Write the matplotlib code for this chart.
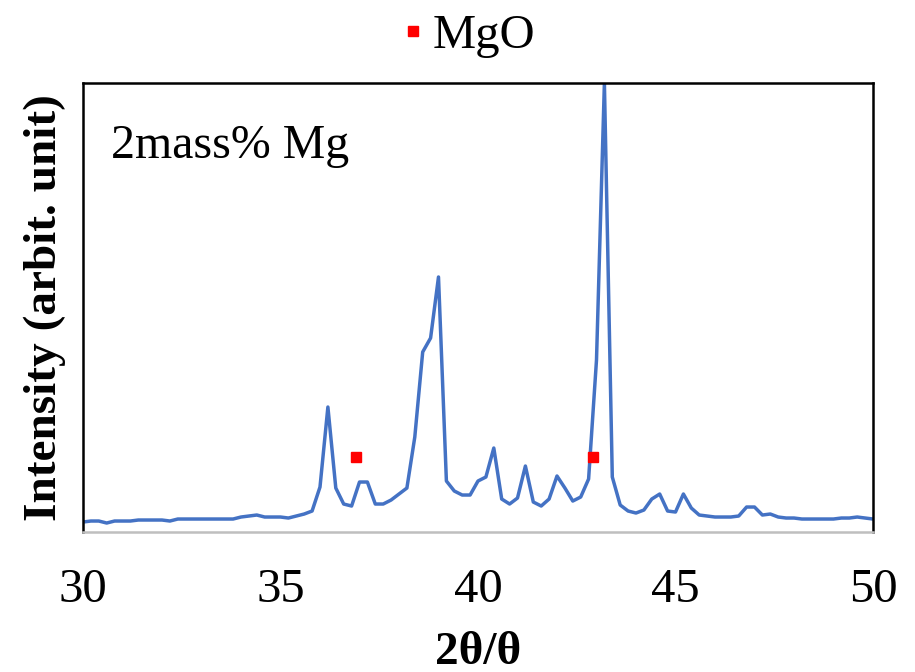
import numpy as np
import matplotlib
matplotlib.use("Agg")
import matplotlib.pyplot as plt

# XRD pattern, 2mass% Mg sample
two_theta = np.linspace(30, 50, 101)
intensity = [
    10, 11, 11, 9, 11, 11, 11, 12, 12, 12,
    12, 11, 13, 13, 13, 13, 13, 13, 13, 13,
    15, 16, 17, 15, 15, 15, 14, 16, 18, 21,
    45, 125, 44, 28, 26, 50, 50, 28, 28, 32,
    38, 44, 95, 180, 194, 255, 51, 41, 37, 37,
    51, 55, 84, 33, 28, 34, 66, 30, 26, 33,
    56, 44, 31, 35, 53, 172, 449, 55, 27, 21,
    19, 22, 33, 38, 21, 20, 38, 24, 17, 16,
    15, 15, 15, 16, 25, 25, 17, 18, 15, 14,
    14, 13, 13, 13, 13, 13, 14, 14, 15, 14,
    13,
]

# MgO peak markers
mgo_theta = [36.9, 42.9]
mgo_level = [75, 75]

xticks = [30, 35, 40, 45, 50]

plt.rcParams["font.family"] = ["Liberation Serif", "DejaVu Serif"]

fig = plt.figure(figsize=(9.15, 6.72), dpi=100)
ax = fig.add_axes([0.0907, 0.2083, 0.8634, 0.6682])

ax.plot(two_theta, intensity, color="#4472C4", linewidth=2.5)
ax.plot(mgo_theta, mgo_level, linestyle="none", marker="s", markersize=7.5,
        color="#FF0000", label="MgO")

ax.set_xlim(30, 50)
ax.set_ylim(0, 449)
ax.set_xticks(xticks)
ax.set_yticks([])
ax.tick_params(axis="x", length=0, pad=26, labelsize=35)

for side in ["top", "left", "right"]:
    ax.spines[side].set_color("black")
    ax.spines[side].set_linewidth(1.8)
ax.spines["bottom"].set_color("#BFBFBF")
ax.spines["bottom"].set_linewidth(1.8)

ax.set_xlabel("2θ/θ", fontsize=34, fontweight="bold", labelpad=14)
ax.set_ylabel("Intensity (arbit. unit)", fontsize=34, fontweight="bold", labelpad=12)

ax.text(0.035, 0.86, "2mass% Mg", transform=ax.transAxes, fontsize=34.5,
        va="center", ha="left")

fig.legend(loc="upper center", bbox_to_anchor=(0.51, 1.045), frameon=False,
           fontsize=35, handlelength=0.6, handletextpad=0.1, markerscale=1.0)

fig.savefig("out.png", dpi=100)
